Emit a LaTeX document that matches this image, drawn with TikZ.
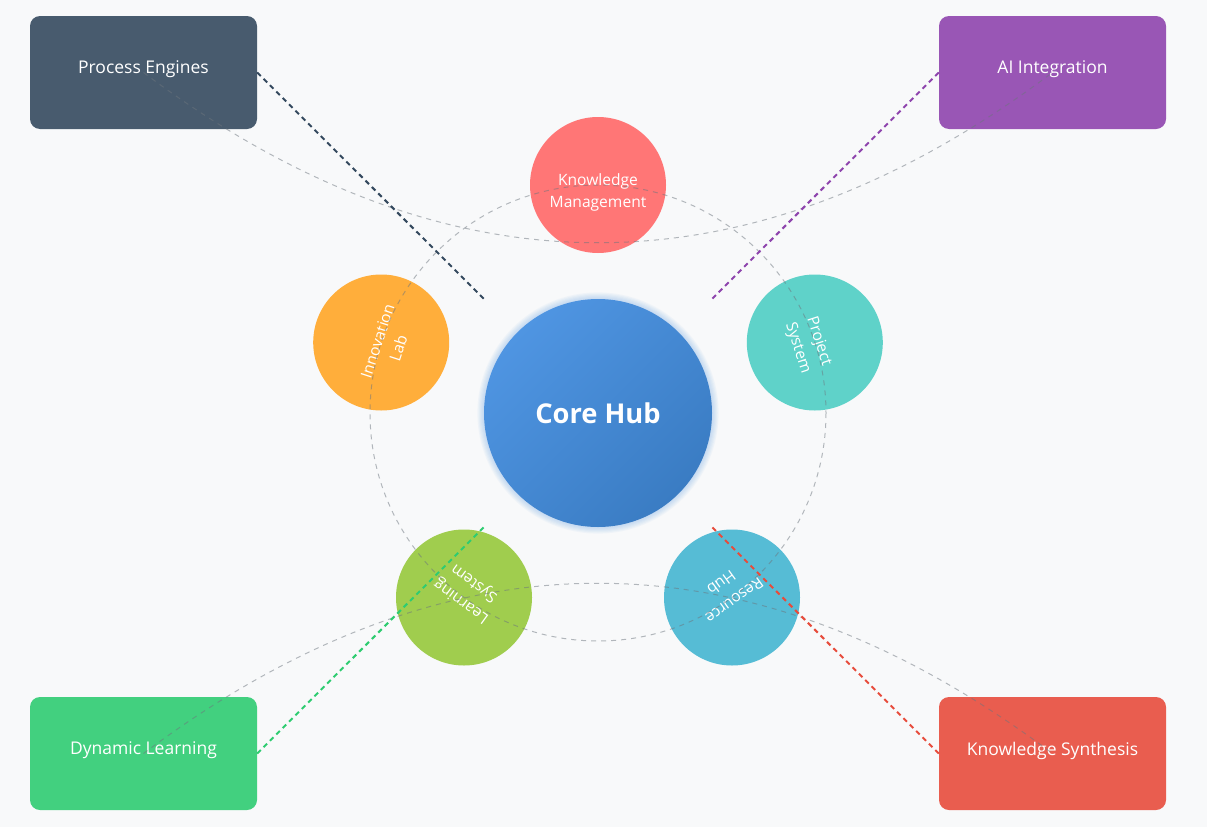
\documentclass[tikz,border=0pt]{standalone}
\usepackage{fontspec}
\setmainfont{Open Sans}
\usetikzlibrary{calc}

\definecolor{bg}{HTML}{F8F9FA}
% box fills and link colours
\definecolor{peFill}{HTML}{485B6E}
\definecolor{aiFill}{HTML}{9956B5}
\definecolor{dlFill}{HTML}{42D07F}
\definecolor{ksFill}{HTML}{E95D4F}
\definecolor{peC}{HTML}{34495E}
\definecolor{aiC}{HTML}{8E44AD}
\definecolor{dlC}{HTML}{2ECC71}
\definecolor{ksC}{HTML}{E74C3C}
% orbit circles
\definecolor{kmC}{HTML}{FF7676}
\definecolor{psC}{HTML}{5FD2C9}
\definecolor{rhC}{HTML}{56BCD5}
\definecolor{lsC}{HTML}{A0CD4E}
\definecolor{ilC}{HTML}{FFAE3B}
% hub
\definecolor{hubA}{HTML}{4F95E2}
\definecolor{hubB}{HTML}{3A7CC3}
\definecolor{guideC}{HTML}{6C757D}

\tikzset{
  box/.style={rectangle, rounded corners=10pt, minimum width=227pt,
    minimum height=113pt, inner sep=0pt},
  boxtext/.style={text=white, inner sep=0pt, font=\fontsize{17.5}{21}\selectfont},
  orbit/.style={circle, minimum size=136pt, inner sep=0pt},
  orbittext/.style={text=white, inner sep=0pt, align=center,
    font=\fontsize{15.6}{22}\selectfont},
  guide/.style={draw=guideC, draw opacity=0.5, line width=1pt,
    dash pattern=on 5pt off 5pt},
  link/.style={line width=2pt, dash pattern=on 5pt off 4pt},
}

\begin{document}
\begin{tikzpicture}[x=1pt, y=-1pt]
  \useasboundingbox (0,0) rectangle (1207,827);
  \fill[bg] (0,0) rectangle (1207,827);

  % soft glow behind the hub
  \foreach \k in {1,...,6}
    \fill[hubA, opacity=0.05] (598,413) circle ({114+\k*1.1});

  % central hub
  \node[circle, minimum size=228pt, inner sep=0pt, top color=hubA,
    bottom color=hubB, shading angle=45, text=white,
    font=\bfseries\fontsize{27.3}{32}\selectfont] (hub) at (598,413) {Core Hub};

  % link end points at the corners of the hub's bounding square
  \coordinate (hubNW) at (484,299);
  \coordinate (hubNE) at (712,299);
  \coordinate (hubSW) at (484,527);
  \coordinate (hubSE) at (712,527);

  % orbiting modules
  \node[orbit, fill=kmC] (km) at (598,185) {};
  \node[orbit, fill=psC] (ps) at (814.8,342.5) {};
  \node[orbit, fill=rhC] (rh) at (732,597.5) {};
  \node[orbit, fill=lsC] (ls) at (464,597.5) {};
  \node[orbit, fill=ilC] (il) at (381.2,342.5) {};
  \node[orbittext] (kmT) at ($(km.center)+(0,7)$) {Knowledge\\Management};
  \node[orbittext, rotate=-72] (psT) at ($(ps.center)+(-6.7,2.2)$) {Project\\System};
  \node[orbittext, rotate=-144] (rhT) at ($(rh.center)+(-4.1,-5.7)$) {Resource\\Hub};
  \node[orbittext, rotate=144] (lsT) at ($(ls.center)+(4.1,-5.7)$) {Learning\\System};
  \node[orbittext, rotate=72] (ilT) at ($(il.center)+(6.7,2.2)$) {Innovation\\Lab};

  % corner boxes
  \node[box, fill=peFill] (pe) at (143.5,72.5) {};
  \node[box, fill=aiFill] (ai) at (1052.5,72.5) {};
  \node[box, fill=dlFill] (dl) at (143.5,753.5) {};
  \node[box, fill=ksFill] (ks) at (1052.5,753.5) {};
  \node[boxtext] (peT) at ([yshift=3pt]pe.center) {Process Engines};
  \node[boxtext] (aiT) at ([yshift=3pt]ai.center) {AI Integration};
  \node[boxtext] (dlT) at ([yshift=3pt]dl.center) {Dynamic Learning};
  \node[boxtext] (ksT) at ([yshift=3pt]ks.center) {Knowledge Synthesis};

  % guide curves bending through the hub
  \draw[guide] (pe.center) .. controls ($(pe.center)!2/3!(hub.center)$)
    and ($(ai.center)!2/3!(hub.center)$) .. (ai.center);
  \draw[guide] (dl.center) .. controls ($(dl.center)!2/3!(hub.center)$)
    and ($(ks.center)!2/3!(hub.center)$) .. (ks.center);

  % orbit ring
  \draw[guide] (hub.center) circle (228);

  % dashed links from boxes towards the hub
  \draw[link, draw=peC] (pe.east) -- (hubNW);
  \draw[link, draw=aiC] (ai.west) -- (hubNE);
  \draw[link, draw=dlC] (dl.east) -- (hubSW);
  \draw[link, draw=ksC] (ks.west) -- (hubSE);
\end{tikzpicture}
\end{document}
